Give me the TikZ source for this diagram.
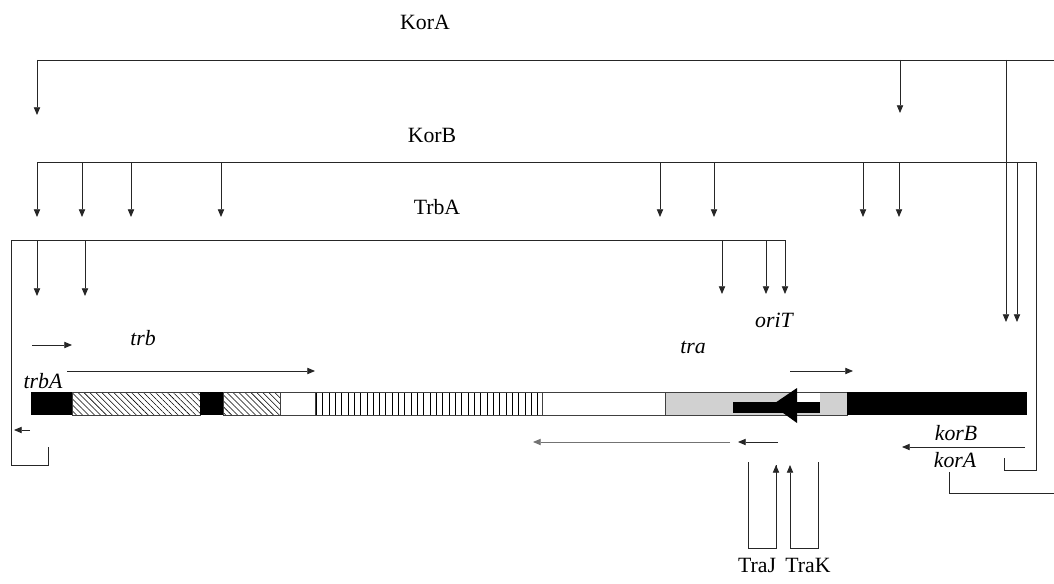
\documentclass[tikz,border=0pt]{standalone}
\usepackage{fontspec}
\setmainfont{Liberation Serif}
\usetikzlibrary{arrows.meta,patterns.meta}

\begin{document}
\begin{tikzpicture}[
  x=0.25mm, y=-0.25mm,
  font=\fontsize{15.5}{18}\selectfont,
  lbl/.style={inner sep=0pt},
  gene/.style={inner sep=0pt, font=\fontsize{15.5}{18}\selectfont\itshape},
  line/.style={draw=black!85, line width=0.6pt},
  drop/.style={line, -{Triangle[length=5.5pt,width=4.5pt]}},
  seg/.style={draw=black!75, line width=0.4pt},
  hatch/.style={seg, pattern={Lines[angle=-45,distance=3pt,line width=0.4pt]}},
  vlines/.style={seg, pattern={Lines[angle=90,distance=4.5pt,line width=0.6pt]}}
]
\useasboundingbox (0,0) rectangle (1054,583);

% regulator names
\node[lbl] (korAlbl) at (425,22) {KorA};
\node[lbl] (korBlbl) at (432,135) {KorB};
\node[lbl] (trbAlbl) at (437,207) {TrbA};

% KorA
\coordinate (kA) at (37,60);
\coordinate (kAr) at (1054,60);
\coordinate (a1) at (37,115);
\coordinate (a2) at (900,113);
\coordinate (a3) at (1006,322);
\draw[line] (kA) -- (kAr);
\foreach \i in {1,2,3}
  \draw[drop] (a\i |- kA) -- (a\i);

% KorB
\coordinate (kB) at (37,162);
\coordinate (kBr) at (1036,162);
\foreach \x [count=\i] in {37,82,131,221,660,714,863,899}
  \coordinate (b\i) at (\x,217);
\coordinate (b9) at (1017,322);
\draw[line] (kB) -- (kBr) -- (1036,470) -- (1004,470) -- (1004,458);
\foreach \i in {1,...,9}
  \draw[drop] (b\i |- kB) -- (b\i);

% TrbA
\coordinate (tA) at (11,240);
\coordinate (tAr) at (785,240);
\foreach \x [count=\i] in {37,85}
  \coordinate (t\i) at (\x,296);
\foreach \x [count=\i from 3] in {722,766,785}
  \coordinate (t\i) at (\x,294);
\draw[line] (tAr) -- (tA) -- (11,465) -- (48,465) -- (48,447);
\foreach \i in {1,...,5}
  \draw[drop] (t\i |- tA) -- (t\i);

% genes and transcripts
\node[gene] (oriT) at (774,320) {oriT};
\node[gene] (trb) at (143,338) {trb};
\node[gene] (trbA) at (43,381) {trbA};
\node[gene] (tra) at (693,347) {tra};
\node[gene] (korB) at (956,433) {korB};
\node[gene] (korA) at (955,460) {korA};

\coordinate (r1s) at (32,345);  \coordinate (r1e) at (72,345);
\coordinate (r2s) at (67,371);  \coordinate (r2e) at (315,371);
\coordinate (r3s) at (790,371); \coordinate (r3e) at (853,371);
\coordinate (l1s) at (30,430);  \coordinate (l1e) at (14,430);
\coordinate (l2s) at (730,442); \coordinate (l2e) at (533,442);
\coordinate (l3s) at (778,442); \coordinate (l3e) at (738,442);
\coordinate (l4s) at (1025,447); \coordinate (l4e) at (902,447);
\foreach \a in {r1,r2,r3,l1,l3,l4}
  \draw[drop] (\a s) -- (\a e);
\draw[drop, draw=black!55] (l2s) -- (l2e);

% the map
\fill (31,392) rectangle (72,415);
\draw[hatch] (72,392) rectangle (200,415);
\fill (200,392) rectangle (223,415);
\draw[hatch] (223,392) rectangle (280,415);
\draw[seg] (280,392) rectangle (315,415);
\draw[vlines] (315,392) rectangle (542,415);
\draw[seg] (542,392) rectangle (665,415);
\draw[seg, fill=black!18] (665,392) rectangle (847,415);
\fill[white] (797,392.6) rectangle (820,402);
\fill (733,402) rectangle (820,413);
\fill (772,405) -- (797,388) -- (797,423) -- cycle;
\fill (847,392) rectangle (1027,415);

% korA loop
\draw[line] (korA.south -| 949,0) ++(0,4) -- (949,493) -- (1054,493);

% TraJ and TraK
\node[lbl] (traJ) at (757,565) {TraJ};
\node[lbl] (traK) at (808,565) {TraK};
\coordinate (j) at (776,465);
\coordinate (k) at (790,465);
\draw[line] (748,462) -- (748,548) -- (j |- 0,548) -- (j) ;
\draw[drop] (j |- 0,548) -- (j);
\draw[drop] (k |- 0,548) -- (k);
\draw[line] (818,462) -- (818,548) -- (k |- 0,548);
\end{tikzpicture}
\end{document}
